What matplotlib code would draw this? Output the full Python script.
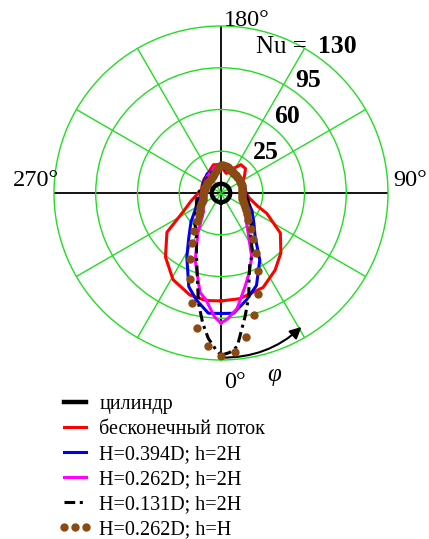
import numpy as np
import matplotlib
matplotlib.use("Agg")
import matplotlib.pyplot as plt

plt.rcParams['font.family'] = ['Liberation Serif', 'DejaVu Serif']

# local Nusselt number around the cylinder, angle phi in degrees
cyl_nu = -2.3

red_deg = [0, 10, 24, 35, 45, 56, 66, 70, 80, 90, 100, 115, 125, 135, 145, 155,
           165, 175, 185, 195, 205, 215, 230, 250, 262, 270, 285, 296, 306, 319,
           331, 343, 352]
red_nu = [80.5, 80, 76.7, 69, 61, 50, 32, 23, 14, 11, 10, 9, 14, 19, 19, 12,
          7, 10, 14, 14.5, 11.5, 9, 8.5, 7, 6.5, 9, 16, 25, 46, 61,
          73, 79.4, 81]

blue_deg = [0, 6, 13.5, 21, 30, 38, 48, 60, 75, 90, 112, 135, 160, 180, 200, 216,
            240, 270, 295, 314, 324.5, 332, 341, 347, 354]
blue_nu = [91, 91.4, 82, 73, 55, 36.5, 27, 20, 13, 11, 11, 10.5, 11, 12, 11, 9.8,
           7, 6.5, 12, 25, 36.6, 51, 73, 82, 91.3]

mag_deg = [0, 3, 8, 14.4, 20, 25.7, 34, 50, 70, 90, 120, 150, 170, 180, 195, 220,
           250, 280, 300, 316, 330, 339, 348, 352, 357]
mag_nu = [99, 95.7, 87.6, 71, 60, 49.3, 30.8, 16.3, 10, 9, 9, 10, 13, 13.5, 12, 8,
          6, 6.5, 8, 11, 28.8, 50.3, 75, 80.5, 94]

dash_deg = [0, 3, 6, 8, 11, 15, 18, 23, 27, 35, 45, 52, 60, 75, 90, 120, 150, 180,
            210, 240, 270, 286, 300, 319, 329, 339, 346, 348.5, 352, 355, 358]
dash_nu = [126, 124, 119.5, 108.7, 95.6, 80, 66, 52, 49, 33, 26, 22, 18, 13.4, 10,
           8, 9, 12, 9, 6, 9, 11.2, 14, 23.5, 30, 47.2, 70.8, 84.4, 100.2, 112.3, 121]

brown_deg = list(range(0, 360, 5))
brown_nu = [126.6, 124, 113, 96, 80, 62.5, 48.5, 37, 29, 22,
            18, 15.5, 13, 11, 9.5, 8.5, 7.8, 7.5, 7.5, 7.8,
            8, 8.2, 8.4, 8.6, 8.8, 9, 9.1, 9.2, 9.3, 9.6,
            10, 10.6, 11.4, 12.3, 13, 13.5, 13.2, 12, 10, 8.3,
            7, 6, 5.2, 4.6, 4.3, 4.1, 4, 4, 4, 4,
            4, 4.1, 4.3, 4.5, 4.8, 5.1, 5.4, 5.8, 6.3, 7.5,
            9, 11, 13, 16, 21, 29, 38, 51, 66.5, 85.5,
            104.5, 119]

r_ticks = [25, 60, 95, 130]
labels = ['цилиндр', 'бесконечный поток', 'H=0.394D; h=2H', 'H=0.262D; h=2H',
          'H=0.131D; h=2H', 'H=0.262D; h=H']

W, H = 429, 539


def closed(deg, nu):
    th = np.radians(np.append(deg, deg[0]))
    return th, np.append(nu, nu[0])


def fxy(x, y):
    return x / W, 1 - y / H


fig = plt.figure(figsize=(W / 100, H / 100), dpi=100)
cx, cy, R = 221, 193, 167
ax = fig.add_axes([(cx - R) / W, 1 - (cy + R) / H, 2 * R / W, 2 * R / H],
                  projection='polar')
ax.set_theta_zero_location('S')
ax.set_theta_direction(1)
ax.set_ylim(-10, 130)
ax.set_yticks(r_ticks)
ax.set_yticklabels([])
ax.set_xticks(np.radians(np.arange(0, 360, 30)))
ax.set_xticklabels([])
ax.spines['polar'].set_visible(False)
ax.grid(True, color='#22dd22', lw=1.0)
for i, gl in enumerate(ax.xaxis.get_gridlines()):
    if i % 3 == 0:
        gl.set_color('black')
        gl.set_linewidth(1.3)
for gl in ax.yaxis.get_gridlines():
    gl.set_clip_on(False)

th, r = closed(red_deg, red_nu)
l_red, = ax.plot(th, r, color='red', lw=2.2, zorder=3)
th, r = closed(blue_deg, blue_nu)
l_blue, = ax.plot(th, r, color='#0000ee', lw=2.2, zorder=3)
th, r = closed(mag_deg, mag_nu)
l_mag, = ax.plot(th, r, color='#ff00ff', lw=2.2, zorder=3)
th, r = closed(dash_deg, dash_nu)
l_dash, = ax.plot(th, r, color='black', lw=2.2, ls=(0, (3.5, 1.5, 1, 1.5)), zorder=4)
l_brown, = ax.plot(np.radians(brown_deg), brown_nu, ls='none', marker='o',
                   ms=5, color='#8b4a14', zorder=5)
tc = np.linspace(0, 2 * np.pi, 200)
l_cyl, = ax.plot(tc, np.full_like(tc, cyl_nu), color='black', lw=3.2, zorder=6)

# radial scale labels along the 150 degree spoke
for v in r_ticks[:-1]:
    ax.annotate(str(v), xy=(np.radians(150), v), xytext=(17.5, 3),
                textcoords='offset points', ha='center', va='center',
                fontsize=18.5, fontweight='bold')
ax.annotate('130', xy=(np.radians(150), 130), xytext=(9.5, 1),
            textcoords='offset points', ha='left', va='center',
            fontsize=18.5, fontweight='bold')
ax.annotate('Nu =', xy=(np.radians(150), 130), xytext=(1.5, 1),
            textcoords='offset points', ha='right', va='center', fontsize=18)

# direction of phi
ax.annotate('', xy=(np.radians(31), 121), xytext=(0, 128),
            arrowprops=dict(arrowstyle='-|>', connectionstyle='arc3,rad=0.2',
                            color='black', lw=1.5, mutation_scale=17,
                            shrinkA=0, shrinkB=0))

fig.text(*fxy(247, 20), '180°', ha='center', va='center', fontsize=17.5)
fig.text(*fxy(235, 382), '0°', ha='center', va='center', fontsize=17.5)
fig.text(*fxy(36, 181), '270°', ha='center', va='center', fontsize=17.5)
fig.text(*fxy(410, 181), '90°', ha='center', va='center', fontsize=17.5)
fig.text(*fxy(274, 375), 'φ', ha='center', va='center', fontsize=18,
         style='italic')

fig.legend([l_cyl, l_red, l_blue, l_mag, l_dash, l_brown], labels,
           loc='upper left', bbox_to_anchor=fxy(58, 395), frameon=False,
           fontsize=14.5, handlelength=1.7, handletextpad=0.35, borderpad=0,
           borderaxespad=0, labelspacing=0.29, numpoints=3)

fig.savefig('out.png', dpi=100)
